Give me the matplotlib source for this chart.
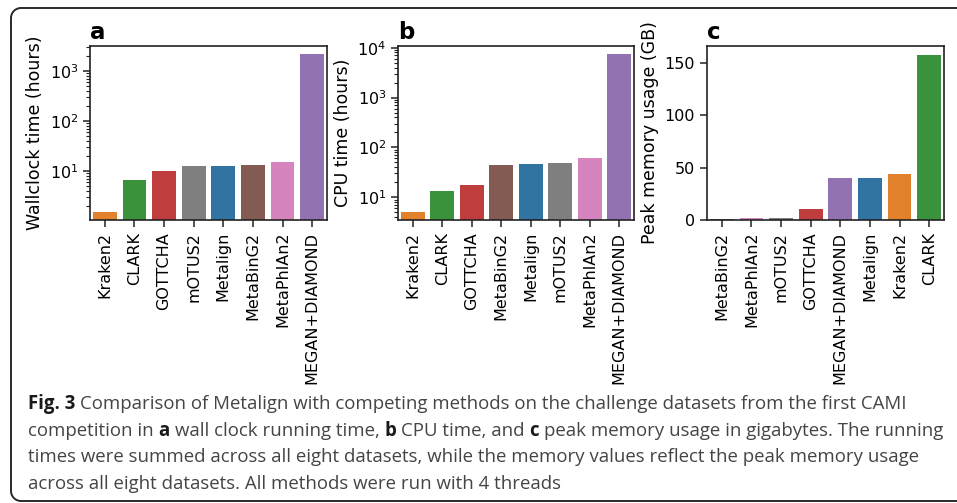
import colorsys
import matplotlib
matplotlib.use("Agg")
import matplotlib.pyplot as plt
import matplotlib.colors as mcolors
from matplotlib.lines import Line2D
from matplotlib.patches import Arc

# panel a: wallclock time (hours)
wall_methods = ['Kraken2', 'CLARK', 'GOTTCHA', 'mOTUS2', 'Metalign', 'MetaBinG2', 'MetaPhlAn2', 'MEGAN+DIAMOND']
wall_hours = [1.5, 6.7, 9.9, 12.4, 12.9, 13.4, 14.9, 2150]

# panel b: CPU time (hours)
cpu_methods = ['Kraken2', 'CLARK', 'GOTTCHA', 'MetaBinG2', 'Metalign', 'mOTUS2', 'MetaPhlAn2', 'MEGAN+DIAMOND']
cpu_hours = [5.0, 13.6, 17.9, 44, 46, 48, 61, 7400]

# panel c: peak memory (GB)
mem_methods = ['MetaBinG2', 'MetaPhlAn2', 'mOTUS2', 'GOTTCHA', 'MEGAN+DIAMOND', 'Metalign', 'Kraken2', 'CLARK']
mem_gb = [0.7, 1.5, 2.2, 10.2, 40.1, 40.1, 43.6, 157.4]

base = {'Metalign': '#1f77b4', 'Kraken2': '#ff7f0e', 'CLARK': '#2ca02c', 'GOTTCHA': '#d62728',
        'MEGAN+DIAMOND': '#9467bd', 'MetaBinG2': '#8c564b', 'MetaPhlAn2': '#e377c2', 'mOTUS2': '#7f7f7f'}


def desat(c, prop=0.75):
    h, l, s = colorsys.rgb_to_hls(*mcolors.to_rgb(c))
    return colorsys.hls_to_rgb(h, l, s * prop)


colors = {k: desat(v) for k, v in base.items()}

plt.rcParams['font.family'] = 'DejaVu Sans'
plt.rcParams['axes.linewidth'] = 1.2

fig = plt.figure(figsize=(9.57, 5.03), dpi=100)

W, H = 957, 503


def add_ax(left, right):
    return fig.add_axes([left / W, 1 - 220 / H, (right - left) / W, (220 - 46) / H])


panels = [
    (add_ax(90, 327), wall_methods, wall_hours, 'Wallclock time (hours)', 'a', True, (1.05, 3160)),
    (add_ax(398, 634), cpu_methods, cpu_hours, 'CPU time (hours)', 'b', True, (3.5, 10800)),
    (add_ax(707, 944), mem_methods, mem_gb, 'Peak memory usage (GB)', 'c', False, (0, 166)),
]

for ax, names, vals, ylab, letter, logy, lims in panels:
    x = range(len(names))
    ax.bar(x, vals, width=0.8, color=[colors[n] for n in names], linewidth=0)
    if logy:
        ax.set_yscale('log')
    ax.set_ylim(*lims)
    ax.set_xlim(-0.5, len(names) - 0.5)
    ax.set_xticks(list(x))
    ax.set_xticklabels(names, rotation=90, fontsize=11.5)
    ax.tick_params(axis='both', which='major', length=5, width=1.1, labelsize=11.5, color='#222222')
    ax.tick_params(axis='y', which='minor', length=3, width=0.8, color='#222222')
    ax.set_ylabel(ylab, fontsize=12.5, labelpad=4)
    for s in ax.spines.values():
        s.set_color('#222222')
    ax.text(0.0, 1.012, letter, transform=ax.transAxes, fontsize=16.5, fontweight='bold',
            ha='left', va='bottom')

# frame: rounded on the left, open to the right edge
r = 10
fl, ft, fb = 11, 8, 501          # left, top, bottom in px from top-left
fcol = '#2a2a2a'
lw = 1.4


def fx(px):
    return px / W


def fy(py):
    return 1 - py / H


fig.add_artist(Line2D([fx(fl + r), 1.05], [fy(ft), fy(ft)], color=fcol, lw=lw))
fig.add_artist(Line2D([fx(fl + r), 1.05], [fy(fb), fy(fb)], color=fcol, lw=lw))
fig.add_artist(Line2D([fx(fl), fx(fl)], [fy(ft + r), fy(fb - r)], color=fcol, lw=lw))
fig.add_artist(Arc((fx(fl + r), fy(ft + r)), 2 * r / W, 2 * r / H, theta1=90, theta2=180,
                   transform=fig.transFigure, color=fcol, lw=lw))
fig.add_artist(Arc((fx(fl + r), fy(fb - r)), 2 * r / W, 2 * r / H, theta1=180, theta2=270,
                   transform=fig.transFigure, color=fcol, lw=lw))

# caption, drawn run by run so bold pieces sit inline
cap_font = 'Open Sans'
cap_size = 13.4
cap_color = '#444444'
cap_lines = [
    [('Fig. 3', True), ('Comparison of Metalign with competing methods on the challenge datasets from the first CAMI', False)],
    [('competition in', False), ('a', True), ('wall clock running time,', False), ('b', True),
     ('CPU time, and', False), ('c', True), ('peak memory usage in gigabytes. The running', False)],
    [('times were summed across all eight datasets, while the memory values reflect the peak memory usage', False)],
    [('across all eight datasets. All methods were run with 4 threads', False)],
]
cap_y = [409, 436, 462, 489]

renderer = fig.canvas.get_renderer()
probe1 = fig.text(0, 0, 'x x', fontsize=cap_size, family=cap_font)
probe2 = fig.text(0, 0, 'xx', fontsize=cap_size, family=cap_font)
space_w = probe1.get_window_extent(renderer).width - probe2.get_window_extent(renderer).width
probe1.remove()
probe2.remove()

for runs, y in zip(cap_lines, cap_y):
    xpx = 28
    for txt, bold in runs:
        t = fig.text(xpx / W, 1 - y / H, txt, fontsize=cap_size, family=cap_font,
                     fontweight='bold' if bold else 'normal',
                     color='#1a1a1a' if bold else cap_color, ha='left', va='baseline')
        xpx += t.get_window_extent(renderer).width + space_w

fig.savefig('out.png', dpi=100)
